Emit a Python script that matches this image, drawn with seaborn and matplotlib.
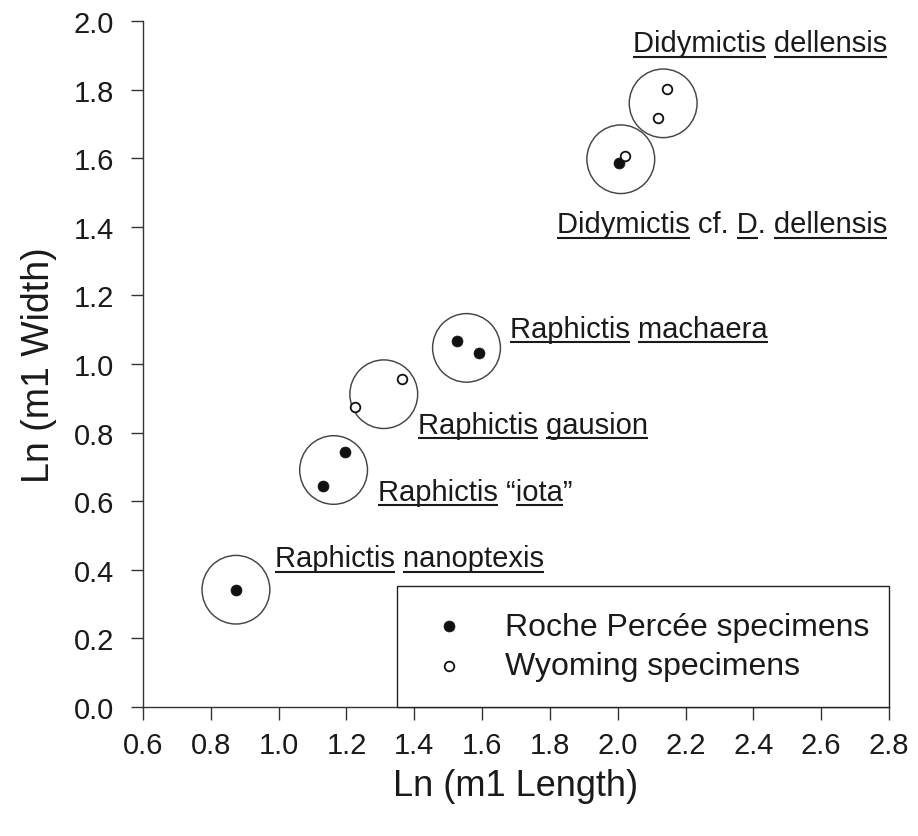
import matplotlib
matplotlib.use("Agg")
import matplotlib.pyplot as plt
import seaborn as sns
import pandas as pd
from matplotlib.patches import Ellipse

# ---------------- data ----------------
roche_x = [0.874, 1.132, 1.196, 1.527, 1.591, 2.005]
roche_y = [0.342, 0.643, 0.744, 1.067, 1.031, 1.585]
wyo_x = [1.225, 1.363, 2.020, 2.120, 2.145]
wyo_y = [0.875, 0.955, 1.607, 1.716, 1.801]

circle_x = [0.874, 1.162, 1.310, 1.554, 2.009, 2.134]
circle_y = [0.342, 0.691, 0.912, 1.047, 1.597, 1.760]
circle_r = [0.10, 0.10, 0.10, 0.10, 0.10, 0.10]

# label pieces: (text, underlined)
label_parts = [
    [("Raphictis", True), (" ", False), ("nanoptexis", True)],
    [("Raphictis", True), (" \u201c", False), ("iota", True), ("\u201d", False)],
    [("Raphictis", True), (" ", False), ("gausion", True)],
    [("Raphictis", True), (" ", False), ("machaera", True)],
    [("Didymictis", True), (" cf. ", False), ("D", True), (". ", False), ("dellensis", True)],
    [("Didymictis", True), (" ", False), ("dellensis", True)],
]
label_x = [0.989, 1.293, 1.411, 1.683, 1.821, 2.045]
label_y = [0.410, 0.604, 0.800, 1.080, 1.384, 1.912]

x_ticks = [0.6, 0.8, 1.0, 1.2, 1.4, 1.6, 1.8, 2.0, 2.2, 2.4, 2.6, 2.8]
y_ticks = [0.0, 0.2, 0.4, 0.6, 0.8, 1.0, 1.2, 1.4, 1.6, 1.8, 2.0]

# ---------------- style ----------------
sns.set_style("ticks")
plt.rcParams["font.family"] = ["Liberation Sans", "DejaVu Sans"]
TXT = "#1a1a1a"
AX = "#333333"

fig = plt.figure(figsize=(9.18, 8.37), dpi=100)
ax = fig.add_axes([0.1558, 0.1541, 0.8126, 0.8196])

df_r = pd.DataFrame({"x": roche_x, "y": roche_y})
df_w = pd.DataFrame({"x": wyo_x, "y": wyo_y})

for cx, cy, r in zip(circle_x, circle_y, circle_r):
    ax.add_patch(Ellipse((cx, cy), 2 * r, 2 * r, fill=False,
                         edgecolor="#454545", linewidth=1.05, zorder=2))

sns.scatterplot(data=df_r, x="x", y="y", ax=ax, color="#111111", s=62,
                edgecolor="#111111", linewidth=0.5, zorder=3,
                label="Roche Percée specimens")
sns.scatterplot(data=df_w, x="x", y="y", ax=ax, color="white", s=48,
                edgecolor="#111111", linewidth=1.3, zorder=4,
                label="Wyoming specimens")

ax.set_xlim(0.6, 2.8)
ax.set_ylim(0.0, 2.0)
ax.set_xticks(x_ticks)
ax.set_yticks(y_ticks)
ax.set_xticklabels([f"{v:.1f}" for v in x_ticks])
ax.set_yticklabels([f"{v:.1f}" for v in y_ticks])
ax.tick_params(axis="both", direction="out", length=9, width=1.0,
               colors=AX, labelcolor=TXT, labelsize=21)
ax.tick_params(axis="y", pad=12)
ax.tick_params(axis="x", pad=8)
sns.despine(ax=ax)
for s in ["left", "bottom"]:
    ax.spines[s].set_color(AX)
    ax.spines[s].set_linewidth(1.0)

ax.set_xlabel("Ln (m1 Length)", fontsize=26, color=TXT, labelpad=7)
ax.set_ylabel("Ln (m1 Width)", fontsize=27, color=TXT, labelpad=12)

leg = ax.legend(loc="lower left", bbox_to_anchor=(0.34, 0.0, 0.66, 0.174),
                mode="expand", borderaxespad=0, fontsize=23, frameon=True,
                fancybox=False, edgecolor="#222222", framealpha=1,
                borderpad=0.8, handlelength=1.7, handletextpad=0.9,
                labelspacing=0.3)
leg.get_frame().set_linewidth(1.0)
for t in leg.get_texts():
    t.set_color(TXT)

# ---------------- underlined labels ----------------
fig.canvas.draw()
renderer = fig.canvas.get_renderer()
inv = ax.transData.inverted()
for parts, lx, ly in zip(label_parts, label_x, label_y):
    full = "".join(p for p, _ in parts)
    t = ax.text(lx, ly, full, fontsize=21, ha="left", va="baseline", color=TXT)
    prop = t.get_fontproperties()
    x0, y0 = ax.transData.transform((lx, ly))
    pos = 0
    for p, u in parts:
        end = pos + len(p)
        if u:
            w_end = renderer.get_text_width_height_descent(full[:end], prop, ismath=False)[0]
            w_word = renderer.get_text_width_height_descent(p, prop, ismath=False)[0]
            xs = x0 + w_end - w_word
            xe = x0 + w_end
            yl = y0 - 5.5
            (dx0, dy0) = inv.transform((xs, yl))
            (dx1, dy1) = inv.transform((xe, yl))
            ax.plot([dx0, dx1], [dy0, dy1], color=TXT, linewidth=1.5,
                    solid_capstyle="butt", clip_on=False, zorder=5)
        pos = end

fig.savefig("out.png", dpi=100)
